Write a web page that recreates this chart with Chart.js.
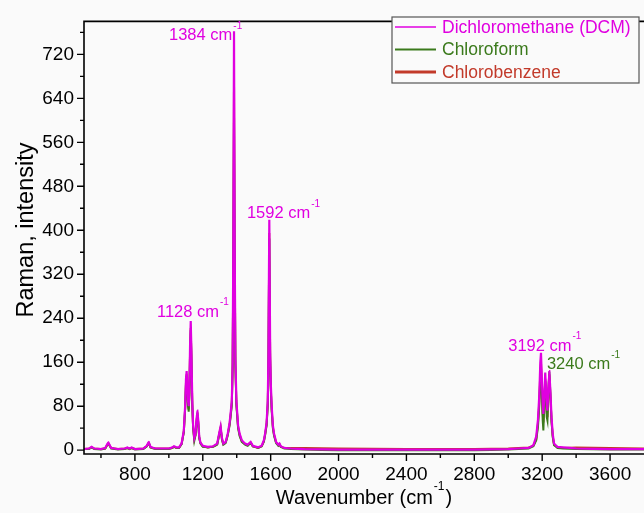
<!DOCTYPE html>
<html>
<head>
<meta charset="utf-8">
<script src="https://cdn.jsdelivr.net/npm/chart.js@4.4.1/dist/chart.umd.min.js"></script>
<style>
  html, body { margin: 0; padding: 0; background: #fafafa; }
  #wrap { width: 644px; height: 513px; }
</style>
</head>
<body>
<div id="wrap"><canvas id="ramanChart" width="644" height="513"></canvas></div>
<script>
"use strict"

// wavenumber grid (cm-1), dense around the bands
const wavenumbers = [
  500, 530, 545, 560, 600, 625, 643, 660, 700, 740, 755, 768, 781, 800, 850, 870, 881, 892, 920, 1000, 1020, 1030, 1045, 1060,
  1075, 1088, 1096, 1101, 1105, 1109, 1113, 1117, 1121, 1125, 1129, 1133, 1138, 1143, 1150, 1157, 1163, 1168, 1173, 1179, 1186, 1200,
  1230, 1260, 1285, 1296, 1305, 1313, 1321,
  1335, 1347, 1358, 1365, 1371, 1376, 1380, 1384, 1388, 1392, 1398, 1408, 1417, 1430, 1449, 1465, 1482, 1495, 1526,
  1547, 1560, 1567, 1576, 1583, 1587, 1590, 1592, 1594, 1597, 1601, 1606, 1613, 1620, 1632, 1645, 1652, 1660, 1680, 1720,
  1800, 2000, 2400, 2800, 3000, 3120, 3148,
  3165, 3175, 3183, 3189, 3193, 3198, 3203, 3207, 3212, 3218, 3223, 3227, 3231, 3236, 3242, 3248, 3255, 3262, 3270, 3290, 3323, 3400, 3600, 3800
];

const dcm = [
  2, 3, 6, 3, 2, 4, 14, 4, 2, 3, 5, 3, 5, 2, 3, 8, 15, 6, 3, 3, 5, 7, 5, 5,
  12, 35, 80, 130, 144, 120, 90, 80, 110, 190, 235, 180, 90, 45, 22, 30, 55, 72, 55, 25, 14, 8,
  6, 7, 12, 30, 43, 22, 12,
  15, 30, 50, 70, 90, 160, 380, 762, 380, 170, 90, 45, 30, 18, 12, 10, 15, 8, 5,
  8, 18, 30, 50, 90, 180, 330, 419, 330, 180, 120, 80, 45, 30, 15, 10, 12, 7, 4, 3,
  2, 1, 1, 1, 2, 4, 9,
  25, 55, 100, 160, 177, 130, 85, 66, 95, 141, 110, 80, 72, 110, 144, 110, 60, 30, 12, 6, 5, 3, 2, 2
];

const chloroform = [
  2, 2, 5, 2, 1, 3, 13, 3, 1, 2, 4, 2, 4, 1, 2, 7, 14, 5, 2, 2, 4, 6, 4, 4,
  11, 32, 74, 120, 135, 110, 80, 70, 100, 176, 218, 166, 82, 40, 17, 27, 50, 66, 50, 22, 12, 6,
  5, 6, 10, 27, 40, 19, 10,
  13, 27, 45, 64, 82, 148, 350, 614, 350, 155, 82, 40, 26, 15, 10, 8, 13, 7, 4,
  7, 16, 27, 45, 82, 165, 300, 385, 300, 165, 108, 72, 40, 26, 13, 8, 10, 6, 3, 2,
  1, 0, 0, 0, 1, 3, 7,
  18, 42, 80, 135, 152, 100, 55, 36, 80, 126, 90, 60, 54, 100, 143, 105, 52, 24, 9, 4, 3, 2, 1, 1
];

const chlorobenzene = [
  2, 3, 5, 3, 2, 3, 12, 4, 2, 3, 4, 3, 4, 2, 3, 7, 13, 5, 3, 3, 4, 6, 4, 4,
  11, 33, 76, 124, 138, 114, 84, 74, 104, 180, 222, 170, 85, 42, 20, 28, 52, 68, 52, 23, 13, 7,
  5, 6, 11, 28, 41, 20, 11,
  14, 28, 47, 66, 86, 155, 360, 672, 360, 160, 85, 42, 28, 16, 11, 9, 14, 7, 4,
  7, 16, 28, 47, 85, 170, 310, 395, 310, 170, 112, 75, 42, 28, 14, 9, 11, 6, 4, 4,
  4, 3, 2, 2, 3, 5, 8,
  20, 48, 88, 145, 160, 112, 68, 50, 86, 130, 98, 68, 60, 104, 138, 100, 54, 26, 10, 5, 4, 5, 4, 3
];

const seriesNames = ["Dichloromethane (DCM)", "Chloroform", "Chlorobenzene"];
const seriesColors = ["#e000e0", "#3b7a1c", "#c23a2a"];

const xTicks = [800, 1200, 1600, 2000, 2400, 2800, 3200, 3600];
const xMinorTicks = [600, 1000, 1400, 1800, 2200, 2600, 3000, 3400];
const yTicks = [0, 80, 160, 240, 320, 400, 480, 560, 640, 720];
const yMinorTicks = [40, 120, 200, 280, 360, 440, 520, 600, 680, 760];

// peak annotations: text, series colour index, left/baseline anchor in data units
const peakText = ["1384", "1592", "1128", "3192", "3240"];
const peakColor = [0, 0, 0, 0, 1];
const peakAnchorX = [1001, 1460, 930, 3000, 3228];
const peakAnchorY = [746, 422, 243, 181, 147];

const FONT = "'Liberation Sans', Arial, sans-serif";

function toPoints(values) {
  return wavenumbers.map((w, i) => ({x: w, y: values[i]}));
}

// text followed by a small "-1" superscript, returns end x
function drawWithSup(ctx, x, y, text, size, after) {
  ctx.textAlign = 'left';
  ctx.textBaseline = 'alphabetic';
  ctx.font = size + 'px ' + FONT;
  ctx.fillText(text, x, y);
  x += ctx.measureText(text).width + 1;
  ctx.font = Math.round(size * 0.62) + 'px ' + FONT;
  ctx.fillText('-1', x, y - size * 0.7);
  x += ctx.measureText('-1').width + 1;
  if (after) {
    ctx.font = size + 'px ' + FONT;
    ctx.fillText(after, x, y);
    x += ctx.measureText(after).width;
  }
  return x;
}

function measureWithSup(ctx, text, size, after) {
  ctx.font = size + 'px ' + FONT;
  let w = ctx.measureText(text).width + 1;
  if (after) w += ctx.measureText(after).width;
  ctx.font = Math.round(size * 0.62) + 'px ' + FONT;
  return w + ctx.measureText('-1').width + 1;
}

const framePlugin = {
  id: 'frame',
  afterDraw(chart) {
    const ctx = chart.ctx;
    const area = chart.chartArea;
    const xs = chart.scales.x;
    const ys = chart.scales.y;
    ctx.save();

    // axes frame (left, bottom, top)
    ctx.strokeStyle = '#000';
    ctx.lineWidth = 1.6;
    ctx.beginPath();
    ctx.moveTo(area.right, area.top);
    ctx.lineTo(area.left, area.top);
    ctx.lineTo(area.left, area.bottom);
    ctx.lineTo(area.right, area.bottom);
    ctx.stroke();

    // tick marks, pointing out
    ctx.lineWidth = 1.4;
    ctx.beginPath();
    yTicks.forEach(v => { const p = ys.getPixelForValue(v); ctx.moveTo(area.left, p); ctx.lineTo(area.left - 7, p); });
    yMinorTicks.forEach(v => { const p = ys.getPixelForValue(v); ctx.moveTo(area.left, p); ctx.lineTo(area.left - 4, p); });
    xTicks.forEach(v => { const p = xs.getPixelForValue(v); ctx.moveTo(p, area.bottom); ctx.lineTo(p, area.bottom + 7); });
    xMinorTicks.forEach(v => { const p = xs.getPixelForValue(v); ctx.moveTo(p, area.bottom); ctx.lineTo(p, area.bottom + 4); });
    ctx.stroke();

    // axis titles
    ctx.fillStyle = '#000';
    const tw = measureWithSup(ctx, 'Wavenumber (cm', 20, ')');
    drawWithSup(ctx, (area.left + area.right) / 2 - tw / 2, 504, 'Wavenumber (cm', 20, ')');

    ctx.save();
    ctx.translate(33, 230);
    ctx.rotate(-Math.PI / 2);
    ctx.font = '23.5px ' + FONT;
    ctx.textAlign = 'center';
    ctx.textBaseline = 'alphabetic';
    ctx.fillText('Raman, intensity', 0, 0);
    ctx.restore();

    // peak labels
    peakText.forEach((t, i) => {
      ctx.fillStyle = seriesColors[peakColor[i]];
      drawWithSup(ctx, xs.getPixelForValue(peakAnchorX[i]), ys.getPixelForValue(peakAnchorY[i]), t + ' cm', 16.5);
    });

    // legend box
    const lx = 392, ly = 17, lw = 247, lh = 66;
    ctx.fillStyle = '#fafafa';
    ctx.fillRect(lx, ly, lw, lh);
    ctx.strokeStyle = '#555';
    ctx.lineWidth = 1.2;
    ctx.strokeRect(lx, ly, lw, lh);
    const widths = [1.5, 2, 3];
    seriesNames.forEach((name, i) => {
      const cy = 27 + i * 22.5;
      ctx.strokeStyle = seriesColors[i];
      ctx.lineWidth = widths[i];
      ctx.beginPath();
      ctx.moveTo(395, cy);
      ctx.lineTo(436, cy);
      ctx.stroke();
      ctx.fillStyle = seriesColors[i];
      ctx.font = '17.5px ' + FONT;
      ctx.textAlign = 'left';
      ctx.textBaseline = 'middle';
      ctx.fillText(name, 442, cy + 1);
    });

    ctx.restore();
  }
};

const tickFont = {family: FONT, size: 19};

new Chart(document.getElementById('ramanChart'), {
  type: 'line',
  data: {
    datasets: [
      {label: seriesNames[0], data: toPoints(dcm), borderColor: seriesColors[0], borderWidth: 2.2, order: 0},
      {label: seriesNames[1], data: toPoints(chloroform), borderColor: seriesColors[1], borderWidth: 2, order: 1},
      {label: seriesNames[2], data: toPoints(chlorobenzene), borderColor: seriesColors[2], borderWidth: 2, order: 2}
    ]
  },
  options: {
    responsive: false,
    animation: false,
    devicePixelRatio: 1,
    layout: {padding: {top: 15, right: 0, left: 0, bottom: 0}},
    // tiny tension keeps the full path (no per-pixel fast path collapsing)
    elements: {point: {radius: 0}, line: {tension: 0.0001}},
    plugins: {legend: {display: false}, tooltip: {enabled: false}},
    scales: {
      x: {
        type: 'linear',
        min: 500,
        max: 3800,
        afterBuildTicks: s => { s.ticks = xTicks.map(v => ({value: v})); },
        afterFit: s => { s.height = 59; },
        grid: {display: false, drawTicks: false},
        border: {display: false},
        ticks: {font: tickFont, color: '#000', padding: 9, maxRotation: 0, autoSkip: false, callback: v => String(v)}
      },
      y: {
        type: 'linear',
        min: -7,
        max: 780,
        afterBuildTicks: s => { s.ticks = yTicks.map(v => ({value: v})); },
        afterFit: s => { s.width = 84; },
        grid: {display: false, drawTicks: false},
        border: {display: false},
        ticks: {font: tickFont, color: '#000', padding: 10, autoSkip: false, callback: v => String(v)}
      }
    }
  },
  plugins: [framePlugin]
});
</script>
</body>
</html>
